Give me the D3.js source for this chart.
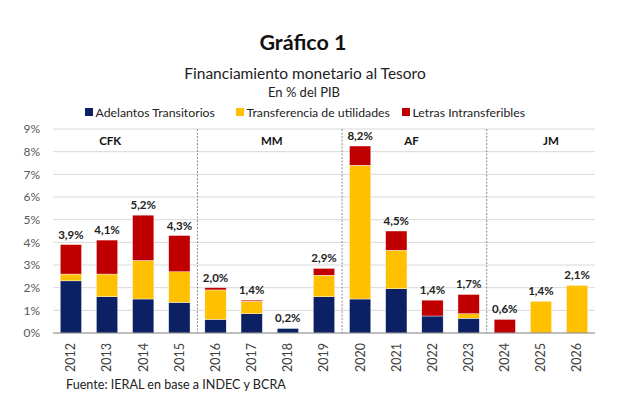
<!DOCTYPE html>
<html>
<head>
<meta charset="utf-8">
<script src="https://cdn.jsdelivr.net/npm/d3@7"></script>
<style>
  body { margin: 0; background: #fff; }
  svg { font-family: Lato, "Open Sans", sans-serif; }
</style>
</head>
<body>
<div class="chart-container"></div>
<script>
// --- Data ---
const years = ["2012","2013","2014","2015","2016","2017","2018","2019","2020","2021","2022","2023","2024","2025","2026"];
const adelantos     = [2.3, 1.6, 1.5, 1.35, 0.6, 0.85, 0.2, 1.6, 1.5, 1.95, 0.75, 0.65, 0,   0,   0];
const transferencia = [0.3, 1.0, 1.7, 1.35, 1.3, 0.55, 0,   0.95, 5.9, 1.7, 0,    0.2,  0,   1.4, 2.1];
const letras        = [1.3, 1.5, 2.0, 1.6,  0.1, 0.05, 0,   0.3, 0.85, 0.85, 0.7, 0.85, 0.6, 0,   0];
const totalLabels   = ["3,9%","4,1%","5,2%","4,3%","2,0%","1,4%","0,2%","2,9%","8,2%","4,5%","1,4%","1,7%","0,6%","1,4%","2,1%"];
const seriesNames   = ["Adelantos Transitorios", "Transferencia de utilidades", "Letras Intransferibles"];
const seriesColors  = ["#0b2164", "#ffc000", "#c00000"];
const yTicks        = [0,1,2,3,4,5,6,7,8,9];
const periods = [
  { name: "CFK", from: "2012", to: "2015" },
  { name: "MM",  from: "2016", to: "2019" },
  { name: "AF",  from: "2020", to: "2023" },
  { name: "JM",  from: "2024", to: "2026" }
];

const W = 640, H = 418;
const margin = { top: 129, left: 53, right: 45, bottom: 85 };

const svg = d3.select(".chart-container").append("svg")
  .attr("width", W).attr("height", H);

const x = d3.scaleBand().domain(years)
  .range([margin.left, W - margin.right])
  .paddingInner(0.41).paddingOuter(0.2);
const y = d3.scaleLinear().domain([0, 9]).range([H - margin.bottom, margin.top]);

// Titles
svg.append("text").attr("x", 303).attr("y", 50).attr("text-anchor", "middle")
  .style("font-size", "21.5px").style("font-weight", "bold").attr("fill", "#111")
  .text("Gráfico 1");
svg.append("text").attr("x", 305).attr("y", 79).attr("text-anchor", "middle")
  .style("font-size", "15.5px").attr("fill", "#222")
  .text("Financiamiento monetario al Tesoro");
svg.append("text").attr("x", 304).attr("y", 97).attr("text-anchor", "middle")
  .style("font-size", "13px").attr("fill", "#222")
  .text("En % del PIB");

// Legend
const legendX = [85, 236, 402];
const legend = svg.append("g");
seriesNames.forEach((name, i) => {
  const g = legend.append("g").attr("transform", `translate(${legendX[i]},0)`);
  g.append("rect").attr("x", 0).attr("y", 108).attr("width", 8).attr("height", 8).attr("fill", seriesColors[i]);
  g.append("text").attr("x", 10.5).attr("y", 116.5)
    .style("font-size", "12.3px").attr("fill", "#222").text(name);
});

// Gridlines
svg.append("g").selectAll("line").data(yTicks.slice(1)).join("line")
  .attr("x1", margin.left).attr("x2", W - margin.right)
  .attr("y1", d => y(d)).attr("y2", d => y(d))
  .attr("stroke", "#d9d9d9").attr("stroke-width", 1);

// Y axis
const yAxis = svg.append("g").attr("transform", `translate(${margin.left},0)`)
  .call(d3.axisLeft(y).tickValues(yTicks).tickFormat(d => d + "%").tickSize(0).tickPadding(13));
yAxis.select(".domain").remove();
yAxis.selectAll("text").style("font-size", "12px").attr("fill", "#595959")
  .style("font-family", "Lato, sans-serif");

// Period separators
const sepYears = periods.slice(1).map(p => p.from);
svg.append("g").selectAll("line").data(sepYears).join("line")
  .attr("x1", d => x(d) - x.step() * x.paddingInner() / 2)
  .attr("x2", d => x(d) - x.step() * x.paddingInner() / 2)
  .attr("y1", y(9)).attr("y2", y(0))
  .attr("stroke", "#8c8c8c").attr("stroke-width", 1).attr("stroke-dasharray", "2,1.5");

// Stacked bars
const rows = years.map((yr, i) => ({ year: yr, s0: adelantos[i], s1: transferencia[i], s2: letras[i] }));
const stack = d3.stack().keys(["s0", "s1", "s2"])(rows);
svg.append("g").selectAll("g").data(stack).join("g")
  .attr("fill", (d, i) => seriesColors[i])
  .selectAll("rect").data(d => d.filter(v => v[1] - v[0] > 0)).join("rect")
  .attr("x", d => x(d.data.year))
  .attr("width", x.bandwidth())
  .attr("y", d => y(d[1]))
  .attr("height", d => y(d[0]) - y(d[1]))
  .attr("stroke", "#fff").attr("stroke-width", 0.4);

// Total labels
svg.append("g").selectAll("text").data(rows).join("text")
  .attr("x", d => x(d.year) + x.bandwidth() / 2)
  .attr("y", d => y(d.s0 + d.s1 + d.s2) - 6)
  .attr("text-anchor", "middle")
  .style("font-size", "11.5px").style("font-weight", "bold").attr("fill", "#222")
  .text((d, i) => totalLabels[i]);

// Period labels
const periodShift = { CFK: -15, MM: 2, AF: -3, JM: 10 };
svg.append("g").selectAll("text").data(periods).join("text")
  .attr("x", d => (x(d.from) + x(d.to) + x.bandwidth()) / 2 + periodShift[d.name])
  .attr("y", 145)
  .attr("text-anchor", "middle")
  .style("font-size", "11.5px").style("font-weight", "bold").attr("fill", "#111")
  .text(d => d.name);

// X axis
const xAxis = svg.append("g").attr("transform", `translate(0,${y(0)})`)
  .call(d3.axisBottom(x).tickSize(0).tickPadding(0));
xAxis.select(".domain").attr("stroke", "#7f7f7f").attr("stroke-width", 1.2)
  .attr("d", `M${margin.left},0H${W - margin.right}`);
xAxis.selectAll("text")
  .attr("transform", "rotate(-90)")
  .attr("x", -10).attr("y", 0).attr("dy", "0.35em")
  .style("text-anchor", "end")
  .style("font-size", "12.5px").attr("fill", "#404040")
  .style("font-family", "Lato, sans-serif");

// Source
svg.append("text").attr("x", 66).attr("y", 389)
  .style("font-size", "12.6px").attr("fill", "#222")
  .text("Fuente: IERAL en base a INDEC y BCRA");
</script>
</body>
</html>
